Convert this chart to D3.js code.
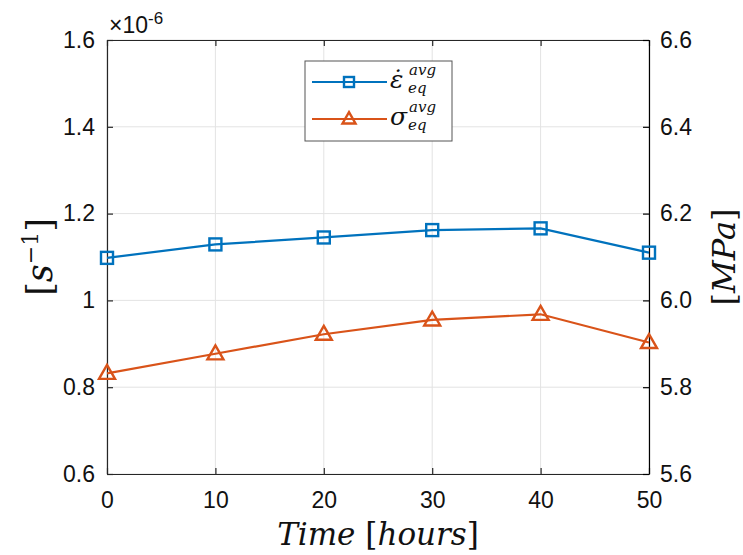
<!DOCTYPE html>
<html>
<head>
<meta charset="utf-8">
<script src="https://cdn.jsdelivr.net/npm/d3@7"></script>
<style>
body { margin: 0; background: #fff; }
svg { font-family: "Liberation Sans", Arial, sans-serif; }
</style>
</head>
<body>
<div id="chart"></div>
<script>
var hours = [0, 10, 20, 30, 40, 50];
var strainRate = [1.098, 1.129, 1.145, 1.162, 1.166, 1.110]; // x 1e-6 s^-1
var stress = [5.832, 5.877, 5.922, 5.955, 5.968, 5.903];     // MPa
var xTicks = [0, 10, 20, 30, 40, 50];
var leftTicks = [0.6, 0.8, 1, 1.2, 1.4, 1.6];
var rightTicks = [5.6, 5.8, 6.0, 6.2, 6.4, 6.6];

var W = 743, H = 555;
var margin = {top: 40, right: 94, bottom: 81, left: 107};
var width = W - margin.left - margin.right,
    height = H - margin.top - margin.bottom;

var blue = "#0072BD", orange = "#D95319", axisCol = "#262626";

var svg = d3.select("#chart").append("svg")
    .attr("width", W).attr("height", H);
var g = svg.append("g")
    .attr("transform", "translate(" + margin.left + "," + margin.top + ")");

var x = d3.scaleLinear().domain([0, 50]).range([0, width]);
var yL = d3.scaleLinear().domain([0.6, 1.6]).range([height, 0]);
var yR = d3.scaleLinear().domain([5.6, 6.6]).range([height, 0]);

// grid
g.selectAll(".vgrid").data(xTicks).enter().append("line")
    .attr("x1", d => x(d)).attr("x2", d => x(d))
    .attr("y1", 0).attr("y2", height)
    .attr("stroke", "#e3e3e3").attr("stroke-width", 1);
g.selectAll(".hgrid").data(leftTicks).enter().append("line")
    .attr("y1", d => yL(d)).attr("y2", d => yL(d))
    .attr("x1", 0).attr("x2", width)
    .attr("stroke", "#e3e3e3").attr("stroke-width", 1);

// axes
var fs = 23;
var ax = g.append("g").attr("transform", "translate(0," + height + ")")
    .call(d3.axisBottom(x).tickValues(xTicks).tickSizeInner(-6).tickSizeOuter(0).tickPadding(18));
var axTop = g.append("g")
    .call(d3.axisTop(x).tickValues(xTicks).tickSizeInner(-6).tickSizeOuter(0).tickFormat(""));
var ayL = g.append("g")
    .call(d3.axisLeft(yL).tickValues(leftTicks).tickSizeInner(-6).tickSizeOuter(0).tickPadding(12)
        .tickFormat(d => d === 1 ? "1" : d3.format(".1f")(d)));
var ayR = g.append("g").attr("transform", "translate(" + width + ",0)")
    .call(d3.axisRight(yR).tickValues(rightTicks).tickSizeInner(-6).tickSizeOuter(0).tickPadding(11)
        .tickFormat(d3.format(".1f")));

[ax, axTop, ayL, ayR].forEach(function (a) {
    a.select(".domain").attr("stroke", axisCol).attr("stroke-width", 1.2);
    a.selectAll(".tick line").attr("stroke", axisCol).attr("stroke-width", 1.2);
    a.selectAll("text").attr("fill", "#111")
        .style("font-size", fs + "px").style("font-family", "'Liberation Sans', Arial, sans-serif");
});
ax.selectAll("text").attr("dy", "0.71em");
ayR.select(".domain").attr("stroke", "#000");
ayR.selectAll(".tick line").attr("stroke", "#000");

// exponent label
var ex = g.append("text").attr("x", 2).attr("y", -7).attr("fill", "#111")
    .style("font-size", "23px");
ex.append("tspan").text("\u00d710");
ex.append("tspan").style("font-size", "17px").attr("dy", -9).text("-6");

// lines
var lineL = d3.line().x((d, i) => x(hours[i])).y(d => yL(d));
var lineR = d3.line().x((d, i) => x(hours[i])).y(d => yR(d));

g.append("path").datum(strainRate).attr("d", lineL)
    .attr("fill", "none").attr("stroke", blue).attr("stroke-width", 2.2);
g.append("path").datum(stress).attr("d", lineR)
    .attr("fill", "none").attr("stroke", orange).attr("stroke-width", 2.2);

var sq = 12;
g.selectAll(".sq").data(strainRate).enter().append("rect")
    .attr("x", (d, i) => x(hours[i]) - sq / 2).attr("y", d => yL(d) - sq / 2)
    .attr("width", sq).attr("height", sq)
    .attr("fill", "none").attr("stroke", blue).attr("stroke-width", 2.4);

function tri(cx, cy, s) {
    var h = s * 0.87;
    return "M" + cx + "," + (cy - h * 0.6) + "L" + (cx + s / 2) + "," + (cy + h * 0.4) +
        "L" + (cx - s / 2) + "," + (cy + h * 0.4) + "Z";
}
g.selectAll(".tri").data(stress).enter().append("path")
    .attr("d", (d, i) => tri(x(hours[i]), yR(d), 16))
    .attr("fill", "none").attr("stroke", orange).attr("stroke-width", 2.4);

// legend
var lg = svg.append("g").attr("transform", "translate(305,61)");
lg.append("rect").attr("width", 147).attr("height", 80)
    .attr("fill", "#fff").attr("stroke", "#555").attr("stroke-width", 1);
lg.append("line").attr("x1", 7).attr("x2", 82).attr("y1", 21).attr("y2", 21)
    .attr("stroke", blue).attr("stroke-width", 2.2);
lg.append("rect").attr("x", 44 - 5).attr("y", 21 - 5).attr("width", 10).attr("height", 10)
    .attr("fill", "none").attr("stroke", blue).attr("stroke-width", 2.4);
lg.append("line").attr("x1", 7).attr("x2", 82).attr("y1", 58).attr("y2", 58)
    .attr("stroke", orange).attr("stroke-width", 2.2);
lg.append("path").attr("d", tri(44, 58, 13))
    .attr("fill", "none").attr("stroke", orange).attr("stroke-width", 2.4);

var serif = "'DejaVu Serif', 'Liberation Serif', serif";
function mathLabel(parent, xx, yy, base) {
    var attrs = function (t, s) {
        return t.attr("fill", "#111").style("font-family", serif)
            .style("font-style", "italic").style("font-size", s + "px");
    };
    attrs(parent.append("text").attr("x", xx).attr("y", yy + 6), 25).text(base);
    attrs(parent.append("text").attr("x", xx + 19).attr("y", yy - 7), 15).text("avg");
    attrs(parent.append("text").attr("x", xx + 18).attr("y", yy + 11), 15).text("eq");
}
mathLabel(lg, 85, 21, "\u03b5\u0307");
mathLabel(lg, 85, 58, "\u03c3");

// axis titles
svg.append("text").attr("x", 378).attr("y", 545).attr("text-anchor", "middle")
    .attr("fill", "#111").style("font-family", serif).style("font-size", "31px")
    .html("<tspan font-style='italic'>Time</tspan><tspan> [</tspan><tspan font-style='italic'>hours</tspan><tspan>]</tspan>");

svg.append("text").attr("transform", "translate(52,257) rotate(-90)").attr("text-anchor", "middle")
    .attr("fill", "#111").style("font-family", serif).style("font-size", "35px")
    .html("<tspan>[</tspan><tspan font-style='italic'>s</tspan><tspan font-size='22' dy='-14'>\u22121</tspan><tspan dy='14'>]</tspan>");

svg.append("text").attr("transform", "translate(735,257) rotate(-90)").attr("text-anchor", "middle")
    .attr("fill", "#111").style("font-family", serif).style("font-size", "32px")
    .html("<tspan>[</tspan><tspan font-style='italic'>MPa</tspan><tspan>]</tspan>");
</script>
</body>
</html>
